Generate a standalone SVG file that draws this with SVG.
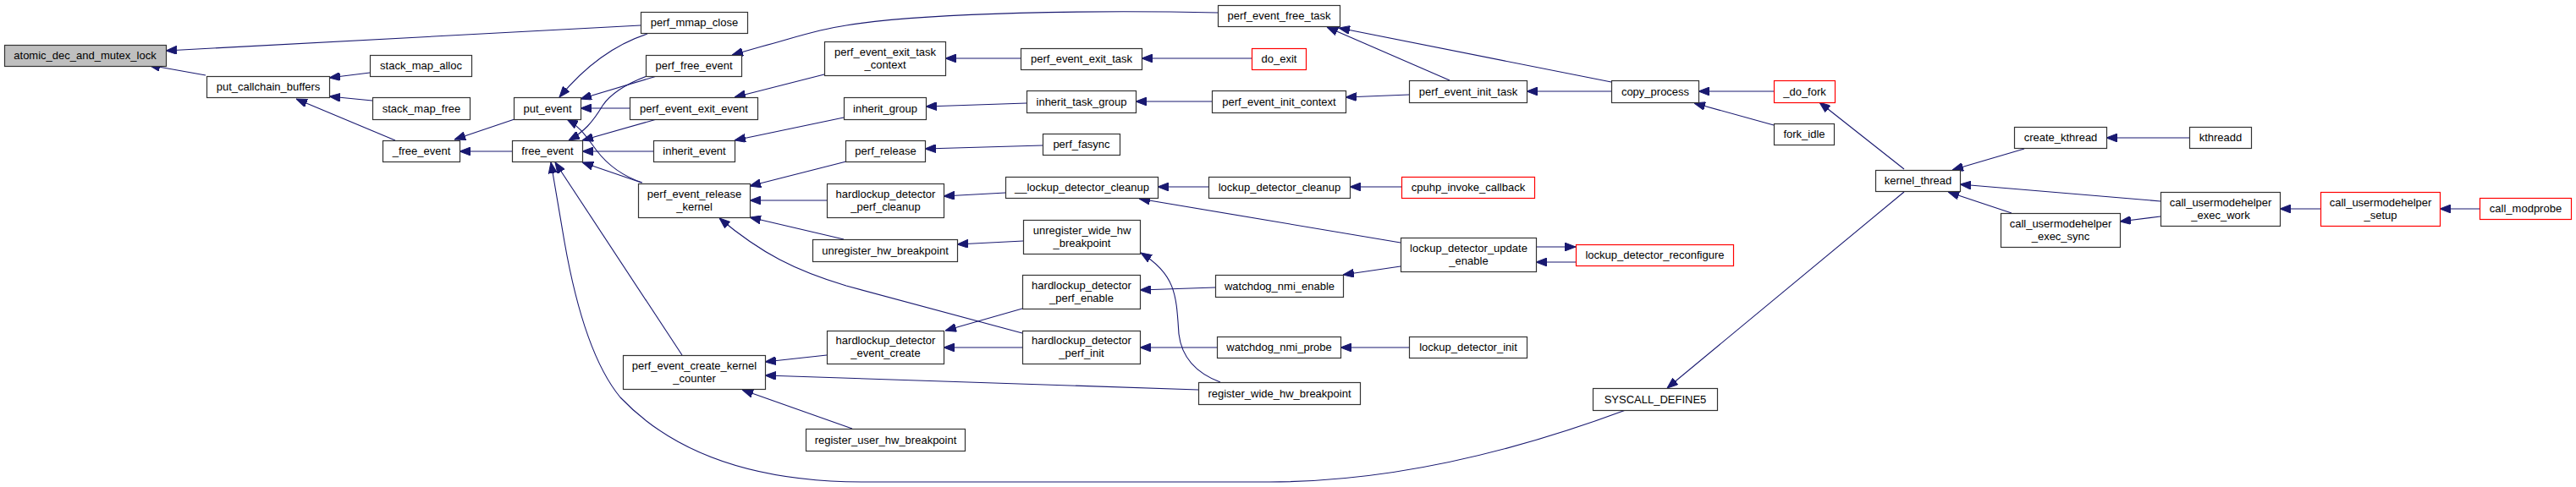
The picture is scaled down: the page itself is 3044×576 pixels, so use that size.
<svg xmlns="http://www.w3.org/2000/svg" width="3044" height="576" viewBox="0 0 3044 576">
<style>
.n rect{fill:#ffffff;stroke:#333333;stroke-width:1.2}
.n.root rect{fill:#bfbfbf}
.n.red rect{stroke:#ff0000}
.n text{font-family:"Liberation Sans",Arial,sans-serif;font-size:13px;fill:#000000;text-anchor:middle}
#edges path{fill:none;stroke:#191970;stroke-width:1.1;marker-end:url(#ah)}
</style>
<defs>
<marker id="ah" viewBox="0 0 13 10" refX="13" refY="5" markerWidth="13" markerHeight="10" markerUnits="userSpaceOnUse" orient="auto">
<path d="M0,0 L13,5 L0,10 z" fill="#191970" stroke="#191970" stroke-width="1"/>
</marker>
</defs>
<rect width="3044" height="576" fill="#ffffff"/>
<g id="edges">
<path d="M757,30 L196,60"/>
<path d="M243,89 L176,77"/>
<path d="M437,86 L389,92"/>
<path d="M440,119 L389,114"/>
<path d="M467,166 L350,117"/>
<path d="M608,141 L537,165"/>
<path d="M605,179 L543,179"/>
<path d="M765,40 C725,53 690,80 661,115"/>
<path d="M776,90 L686,117"/>
<path d="M744,128 L686,128"/>
<path d="M759,216 C735,208 718,195 705,178 C693,162 686,150 670,141"/>
<path d="M767,89 C740,99 722,110 712,125 C700,145 690,156 672,166"/>
<path d="M776,141 L688,166"/>
<path d="M772,179 L688,179"/>
<path d="M758,216 L688,192"/>
<path d="M806,420 L656,192"/>
<path d="M1921,485 C1800,530 1650,570 1500,570 L1020,570 C880,570 790,530 733,470 C700,430 680,360 667,286 L651,192"/>
<path d="M1000,191 L886,220"/>
<path d="M977,237 L886,237"/>
<path d="M997,283 L886,257"/>
<path d="M1208,394 L1000,338 C940,320 900,300 850,258"/>
<path d="M974,88 L868,115"/>
<path d="M1439,15 C1300,12 1100,14 1000,30 C960,36 935,46 900,55 L865,65"/>
<path d="M997,139 L868,166"/>
<path d="M1206,69 L1117,69"/>
<path d="M1479,69 L1349,69"/>
<path d="M1213,122 L1094,126"/>
<path d="M1432,120 L1342,120"/>
<path d="M1232,172 L1093,176"/>
<path d="M1665,112 L1590,115"/>
<path d="M1713,95 L1568,32"/>
<path d="M1904,97 L1582,33"/>
<path d="M1904,108 L1804,108"/>
<path d="M2096,108 L2007,108"/>
<path d="M2096,148 L2002,122"/>
<path d="M2250,200 L2150,121"/>
<path d="M2392,176 L2307,201"/>
<path d="M2553,238 L2316,218"/>
<path d="M2377,252 L2302,227"/>
<path d="M2250,227 L1970,459"/>
<path d="M2587,163 L2489,163"/>
<path d="M2553,256 L2505,262"/>
<path d="M2742,247 L2694,247"/>
<path d="M2930,247 L2883,247"/>
<path d="M1188,228 L1115,232"/>
<path d="M1428,221 L1368,221"/>
<path d="M1656,221 L1595,221"/>
<path d="M1655,287 L1346,235"/>
<path d="M1815,292 L1862,292"/>
<path d="M1862,310 L1815,310"/>
<path d="M1209,285 L1131,289"/>
<path d="M1442,452 C1410,440 1396,420 1393,395 C1390,350 1390,325 1348,299"/>
<path d="M1208,365 L1117,391"/>
<path d="M1208,411 L1115,411"/>
<path d="M977,420 L904,428"/>
<path d="M1416,461 L904,444"/>
<path d="M1007,507 L877,461"/>
<path d="M1436,340 L1347,343"/>
<path d="M1438,411 L1347,411"/>
<path d="M1665,411 L1584,411"/>
<path d="M1655,315 L1587,325"/>
</g>
<g id="n0" class="n root"><rect x="5.5" y="53.5" width="191" height="25"/><text x="100.5" y="70">atomic_dec_and_mutex_lock</text></g>
<g id="n1" class="n"><rect x="244.5" y="90.5" width="145" height="25"/><text x="317" y="107">put_callchain_buffers</text></g>
<g id="n2" class="n"><rect x="437.5" y="65.5" width="120" height="25"/><text x="497.5" y="82">stack_map_alloc</text></g>
<g id="n3" class="n"><rect x="440.5" y="115.5" width="115" height="26"/><text x="498" y="133">stack_map_free</text></g>
<g id="n4" class="n"><rect x="452.5" y="166.5" width="91" height="25"/><text x="498" y="183">_free_event</text></g>
<g id="n5" class="n"><rect x="757.5" y="14.5" width="126" height="25"/><text x="820.5" y="31">perf_mmap_close</text></g>
<g id="n6" class="n"><rect x="607.5" y="115.5" width="79" height="26"/><text x="647" y="133">put_event</text></g>
<g id="n7" class="n"><rect x="605.5" y="166.5" width="83" height="25"/><text x="647" y="183">free_event</text></g>
<g id="n8" class="n"><rect x="763.5" y="65.5" width="113" height="25"/><text x="820" y="82">perf_free_event</text></g>
<g id="n9" class="n"><rect x="744.5" y="115.5" width="151" height="26"/><text x="820" y="133">perf_event_exit_event</text></g>
<g id="n10" class="n"><rect x="772.5" y="166.5" width="96" height="25"/><text x="820.5" y="183">inherit_event</text></g>
<g id="n11" class="n"><rect x="754.5" y="217.5" width="132" height="40"/><text x="820.5" y="233.5">perf_event_release</text><text x="820.5" y="248.5">_kernel</text></g>
<g id="n12" class="n"><rect x="736.5" y="420.5" width="168" height="40"/><text x="820.5" y="436.5">perf_event_create_kernel</text><text x="820.5" y="451.5">_counter</text></g>
<g id="n13" class="n"><rect x="1439.5" y="6.5" width="144" height="25"/><text x="1511.5" y="23">perf_event_free_task</text></g>
<g id="n14" class="n"><rect x="974.5" y="49.5" width="143" height="40"/><text x="1046" y="65.5">perf_event_exit_task</text><text x="1046" y="80.5">_context</text></g>
<g id="n15" class="n"><rect x="997.5" y="115.5" width="97" height="26"/><text x="1046" y="133">inherit_group</text></g>
<g id="n16" class="n"><rect x="999.5" y="166.5" width="94" height="25"/><text x="1046.5" y="183">perf_release</text></g>
<g id="n17" class="n"><rect x="977.5" y="217.5" width="138" height="40"/><text x="1046.5" y="233.5">hardlockup_detector</text><text x="1046.5" y="248.5">_perf_cleanup</text></g>
<g id="n18" class="n"><rect x="960.5" y="283.5" width="171" height="26"/><text x="1046" y="301">unregister_hw_breakpoint</text></g>
<g id="n19" class="n"><rect x="977.5" y="391.5" width="138" height="39"/><text x="1046.5" y="407">hardlockup_detector</text><text x="1046.5" y="422">_event_create</text></g>
<g id="n20" class="n"><rect x="952.5" y="507.5" width="188" height="26"/><text x="1046.5" y="525">register_user_hw_breakpoint</text></g>
<g id="n21" class="n"><rect x="1206.5" y="57.5" width="143" height="25"/><text x="1278" y="74">perf_event_exit_task</text></g>
<g id="n22" class="n"><rect x="1213.5" y="107.5" width="129" height="26"/><text x="1278" y="125">inherit_task_group</text></g>
<g id="n23" class="n"><rect x="1232.5" y="158.5" width="91" height="25"/><text x="1278" y="175">perf_fasync</text></g>
<g id="n24" class="n"><rect x="1188.5" y="209.5" width="180" height="25"/><text x="1278.5" y="226">__lockup_detector_cleanup</text></g>
<g id="n25" class="n"><rect x="1209.5" y="260.5" width="138" height="40"/><text x="1278.5" y="276.5">unregister_wide_hw</text><text x="1278.5" y="291.5">_breakpoint</text></g>
<g id="n26" class="n"><rect x="1208.5" y="325.5" width="139" height="40"/><text x="1278" y="341.5">hardlockup_detector</text><text x="1278" y="356.5">_perf_enable</text></g>
<g id="n27" class="n"><rect x="1208.5" y="391.5" width="139" height="39"/><text x="1278" y="407">hardlockup_detector</text><text x="1278" y="422">_perf_init</text></g>
<g id="n28" class="n red"><rect x="1479.5" y="57.5" width="64" height="25"/><text x="1511.5" y="74">do_exit</text></g>
<g id="n29" class="n"><rect x="1432.5" y="107.5" width="158" height="26"/><text x="1511.5" y="125">perf_event_init_context</text></g>
<g id="n30" class="n"><rect x="1428.5" y="209.5" width="167" height="25"/><text x="1512" y="226">lockup_detector_cleanup</text></g>
<g id="n31" class="n"><rect x="1436.5" y="325.5" width="151" height="26"/><text x="1512" y="343">watchdog_nmi_enable</text></g>
<g id="n32" class="n"><rect x="1438.5" y="398.5" width="146" height="25"/><text x="1511.5" y="415">watchdog_nmi_probe</text></g>
<g id="n33" class="n"><rect x="1416.5" y="452.5" width="191" height="26"/><text x="1512" y="470">register_wide_hw_breakpoint</text></g>
<g id="n34" class="n"><rect x="1665.5" y="95.5" width="139" height="26"/><text x="1735" y="113">perf_event_init_task</text></g>
<g id="n35" class="n red"><rect x="1656.5" y="209.5" width="157" height="25"/><text x="1735" y="226">cpuhp_invoke_callback</text></g>
<g id="n36" class="n"><rect x="1655.5" y="281.5" width="160" height="40"/><text x="1735.5" y="297.5">lockup_detector_update</text><text x="1735.5" y="312.5">_enable</text></g>
<g id="n37" class="n"><rect x="1665.5" y="398.5" width="139" height="25"/><text x="1735" y="415">lockup_detector_init</text></g>
<g id="n38" class="n"><rect x="1904.5" y="95.5" width="103" height="26"/><text x="1956" y="113">copy_process</text></g>
<g id="n39" class="n red"><rect x="1862.5" y="289.5" width="186" height="25"/><text x="1955.5" y="306">lockup_detector_reconfigure</text></g>
<g id="n40" class="n"><rect x="1882.5" y="459.5" width="147" height="26"/><text x="1956" y="477">SYSCALL_DEFINE5</text></g>
<g id="n41" class="n red"><rect x="2096.5" y="95.5" width="72" height="26"/><text x="2132.5" y="113">_do_fork</text></g>
<g id="n42" class="n"><rect x="2096.5" y="146.5" width="71" height="25"/><text x="2132" y="163">fork_idle</text></g>
<g id="n43" class="n"><rect x="2216.5" y="201.5" width="100" height="25"/><text x="2266.5" y="218">kernel_thread</text></g>
<g id="n44" class="n"><rect x="2380.5" y="150.5" width="109" height="25"/><text x="2435" y="167">create_kthread</text></g>
<g id="n45" class="n"><rect x="2364.5" y="252.5" width="141" height="40"/><text x="2435" y="268.5">call_usermodehelper</text><text x="2435" y="283.5">_exec_sync</text></g>
<g id="n46" class="n"><rect x="2587.5" y="150.5" width="73" height="25"/><text x="2624" y="167">kthreadd</text></g>
<g id="n47" class="n"><rect x="2553.5" y="227.5" width="141" height="40"/><text x="2624" y="243.5">call_usermodehelper</text><text x="2624" y="258.5">_exec_work</text></g>
<g id="n48" class="n red"><rect x="2742.5" y="227.5" width="141" height="40"/><text x="2813" y="243.5">call_usermodehelper</text><text x="2813" y="258.5">_setup</text></g>
<g id="n49" class="n red"><rect x="2930.5" y="234.5" width="108" height="25"/><text x="2984.5" y="251">call_modprobe</text></g>
</svg>
